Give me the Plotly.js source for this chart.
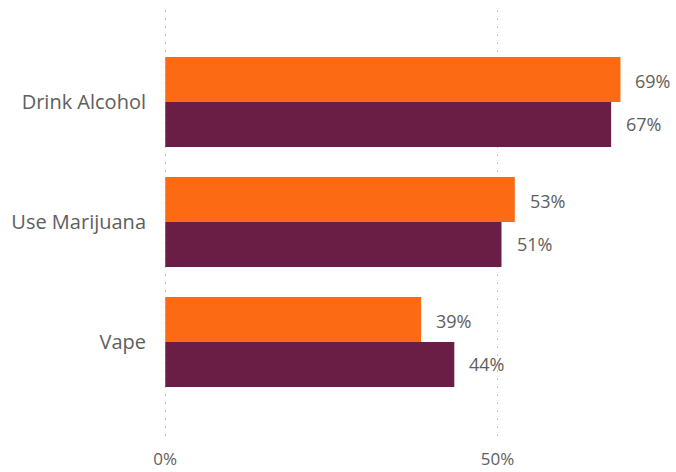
<!DOCTYPE html>
<html>
<head>
<meta charset="utf-8">
<script src="https://cdn.plot.ly/plotly-3.0.1.min.js"></script>
<style>html,body{margin:0;padding:0;background:#fff;}#chart{width:676px;height:472px;}</style>
</head>
<body>
<div id="chart"></div>
<script>
const categories = ["Drink Alcohol", "Use Marijuana", "Vape"];
const seriesOrange = [0.685, 0.526, 0.385];
const seriesPurple = [0.671, 0.506, 0.435];
const labelsOrange = ["69%", "53%", "39%"];
const labelsPurple = ["67%", "51%", "44%"];
const xTickVals = [0, 0.5];
const xTickText = ["0%", "50%"];

const FONT = "'Open Sans', 'Noto Sans', sans-serif";
const TXT = "#605e5c";

const traces = [
  {type: "bar", orientation: "h", name: "Orange", y: categories, x: seriesOrange,
   marker: {color: "#fd6a14"}, hoverinfo: "x+y"},
  {type: "bar", orientation: "h", name: "Purple", y: categories, x: seriesPurple,
   marker: {color: "#6a1e46"}, hoverinfo: "x+y"}
];

const annotations = [];
categories.forEach((c, i) => {
  annotations.push({x: seriesOrange[i], y: c, xref: "x", yref: "y", text: labelsOrange[i],
    showarrow: false, xanchor: "left", yanchor: "middle", xshift: 13, yshift: 21,
    font: {family: FONT, size: 18, color: TXT}});
  annotations.push({x: seriesPurple[i], y: c, xref: "x", yref: "y", text: labelsPurple[i],
    showarrow: false, xanchor: "left", yanchor: "middle", xshift: 13, yshift: -22,
    font: {family: FONT, size: 18, color: TXT}});
});

const layout = {
  width: 676, height: 472,
  margin: {l: 164, r: 0, t: 10, b: 32},
  paper_bgcolor: "#ffffff", plot_bgcolor: "#ffffff",
  barmode: "group", bargap: 0.25, bargroupgap: 0,
  showlegend: false,
  font: {family: FONT, size: 18, color: TXT},
  xaxis: {range: [-0.0019, 0.7686], tickvals: xTickVals, ticktext: xTickText,
    showgrid: true, gridcolor: "#c4c4c4", griddash: "2px,6px", gridwidth: 1.2,
    zeroline: false, showline: false, ticks: "outside", ticklen: 4, tickcolor: "rgba(0,0,0,0)",
    tickfont: {family: FONT, size: 17, color: TXT}, fixedrange: true},
  yaxis: {type: "category", range: [2.817, -0.767], showgrid: false, zeroline: false, showline: false,
    ticks: "outside", ticklen: 13, tickcolor: "rgba(0,0,0,0)",
    tickfont: {family: FONT, size: 20, color: TXT}, fixedrange: true},
  annotations: annotations
};

Plotly.newPlot("chart", traces, layout, {displayModeBar: false, staticPlot: true});
</script>
</body>
</html>
